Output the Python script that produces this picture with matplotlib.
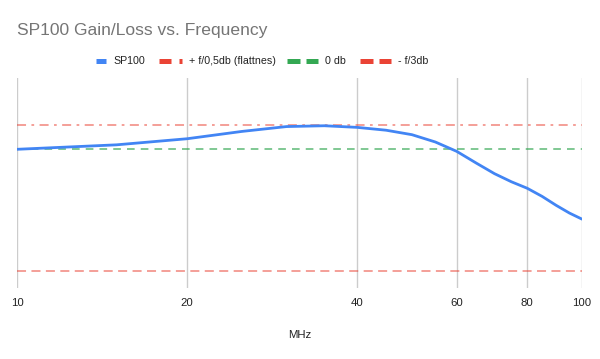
import matplotlib
matplotlib.use("Agg")
import matplotlib.pyplot as plt
from matplotlib.lines import Line2D
from matplotlib.ticker import FixedLocator, NullLocator

# Data
freq_mhz = [10, 15, 20, 25, 30, 35, 40, 45, 50, 55, 60, 65, 70, 75, 80, 85, 90, 95, 100]
sp100_db = [0.0, 0.11, 0.26, 0.44, 0.56, 0.58, 0.54, 0.47, 0.36, 0.18, -0.05,
            -0.34, -0.60, -0.80, -0.96, -1.16, -1.38, -1.57, -1.72]
flatness_db = 0.6
zero_db = 0.0
minus3_db = -3.0
x_ticks = [10, 20, 40, 60, 80, 100]
legend_labels = ["SP100", "+ f/0,5db (flattnes)", "0 db", "- f/3db"]
title = "SP100 Gain/Loss vs. Frequency"
x_label = "MHz"

plt.rcParams['font.family'] = ['Liberation Sans', 'DejaVu Sans']

W, H = 600, 359
fig = plt.figure(figsize=(W / 100, H / 100), dpi=100)

def fx(px):
    return px / W

def fy(py):
    return 1 - py / H

left, right, top, bottom = 17, 582, 78, 288
ax = fig.add_axes([fx(left), fy(bottom), fx(right) - fx(left), fy(top) - fy(bottom)])
ax.set_xscale('log')
ax.set_xlim(10, 100)
ax.set_ylim(-3.416, 1.756)

blue = '#4285F4'
red = '#EA4335'
green = '#34A853'

ax.plot(freq_mhz, sp100_db, color=blue, lw=2.0, zorder=5, solid_capstyle='round',
        solid_joinstyle='round')
ax.plot([freq_mhz[0], freq_mhz[-1]], [flatness_db, flatness_db], color=red, alpha=0.55,
        lw=1.3, dashes=(5, 3, 1.5, 3), zorder=3)
ax.plot([freq_mhz[0], freq_mhz[-1]], [zero_db, zero_db], color=green, alpha=0.8,
        lw=1.1, dashes=(5, 4), zorder=3)
ax.plot([freq_mhz[0], freq_mhz[-1]], [minus3_db, minus3_db], color=red, alpha=0.55,
        lw=1.3, dashes=(5, 3), zorder=3)

ax.xaxis.set_major_locator(FixedLocator(x_ticks))
ax.xaxis.set_minor_locator(NullLocator())
ax.set_xticklabels([str(t) for t in x_ticks])
ax.tick_params(axis='x', length=0, pad=7, labelsize=8.2, labelcolor='#222222')
ax.set_yticks([])
ax.grid(axis='x', color='#cccccc', lw=1)
for s in ax.spines.values():
    s.set_visible(False)
ax.set_xlabel(x_label, fontsize=8.2, color='#222222', labelpad=16)

fig.text(fx(17), fy(31), title, fontsize=12.6, color='#757575', ha='left', va='center')

# Legend
ly = fy(61)
lw = 3.6
items = [
    (96, 106, dict(color=blue, lw=lw, solid_capstyle='butt'), 113, legend_labels[0]),
    (159, 182, dict(color=red, lw=lw, dashes=(2.4, 1.6, 0.6, 1.6), dash_capstyle='butt'), 189, legend_labels[1]),
    (287, 318, dict(color=green, lw=lw, dashes=(2.6, 1.2), dash_capstyle='butt'), 325, legend_labels[2]),
    (360, 391, dict(color=red, lw=lw, dashes=(2.6, 1.2), dash_capstyle='butt'), 398, legend_labels[3]),
]
for x0, x1, style, tx, lab in items:
    fig.add_artist(Line2D([fx(x0), fx(x1)], [ly, ly], transform=fig.transFigure, **style))
    fig.text(fx(tx), ly, lab, fontsize=7.7, color='#222222', ha='left', va='center')

fig.savefig('out.png', dpi=100)
